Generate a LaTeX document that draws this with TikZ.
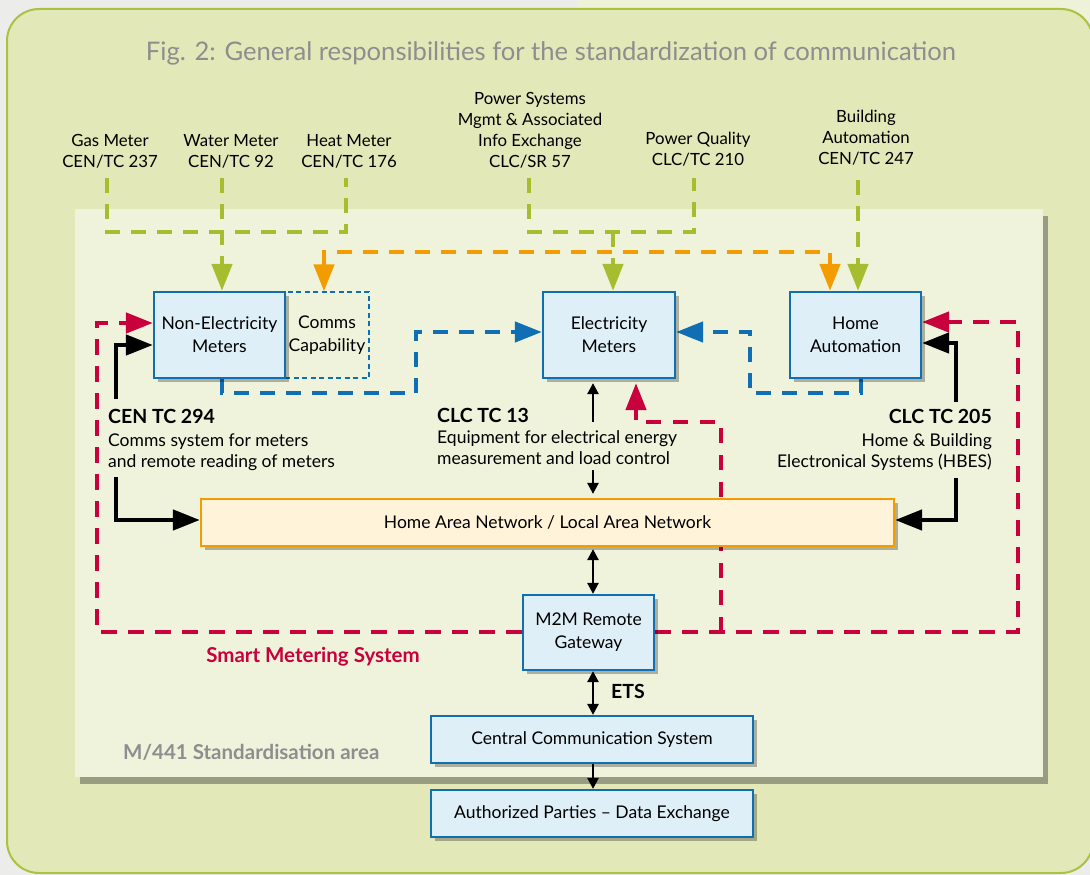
\documentclass[tikz,border=0pt]{standalone}
\usepackage{fontspec}
\setmainfont{Lato}
\usetikzlibrary{arrows.meta,shadows}
\definecolor{outgray}{HTML}{ECEDEB}
\definecolor{paleg}{HTML}{EEF2D8}
\definecolor{outfill}{HTML}{E2E8B8}
\definecolor{frameg}{HTML}{A9C23F}
\definecolor{innerfill}{HTML}{EFF3DC}
\definecolor{mblue}{HTML}{0F6EB4}
\definecolor{bfill}{HTML}{DFEFF8}
\definecolor{mgreen}{HTML}{A5BD2F}
\definecolor{morange}{HTML}{F39C00}
\definecolor{mred}{HTML}{C8003C}
\definecolor{hanfill}{HTML}{FFF3D9}
\definecolor{tgray}{HTML}{8E8E8E}
\pgfdeclarelayer{back}
\pgfdeclarelayer{conn}
\pgfsetlayers{back,conn,main}
\newcommand\mfont{\fontsize{17.5}{23}\selectfont}
\newcommand\lfont{\fontsize{16.8}{21}\selectfont}
\newcommand\dfont{\fontsize{17.5}{21}\selectfont}
\newcommand\bbfont{\fontsize{19.5}{21}\selectfont\bfseries}
\newcommand\bigbfont{\fontsize{20.5}{23}\selectfont\bfseries}
\tikzset{
  box/.style={draw=mblue, fill=bfill, line width=2.2pt, inner sep=0pt, align=center, font=\mfont,
    drop shadow={shadow xshift=4pt, shadow yshift=-4pt, opacity=0.28, fill=black}},
  hanbox/.style={box, draw=morange, fill=hanfill},
  commsbox/.style={draw=mblue, line width=1.3pt, dash pattern=on 5pt off 3.5pt, inner sep=0pt, align=center, font=\mfont},
  lab/.style={inner sep=0pt, align=center, font=\lfont},
  txt/.style={inner sep=0pt, font=\dfont},
  bigtip/.style={-{Triangle[length=27pt,width=20pt]}},
  gdash/.style={draw=mgreen, line width=4.5pt, dash pattern=on 15pt off 11pt},
  odash/.style={draw=morange, line width=4.5pt, dash pattern=on 15pt off 11pt},
  bdash/.style={draw=mblue, line width=4.5pt, dash pattern=on 15pt off 11pt},
  rdash/.style={draw=mred, line width=4.5pt, dash pattern=on 15.5pt off 11.5pt},
  kline/.style={draw=black, line width=4.5pt},
  thin/.style={draw=black, line width=2.5pt},
  ttip/.style={-{Triangle[length=11pt,width=11pt]}},
  ttip2/.style={{Triangle[length=11pt,width=11pt]}-{Triangle[length=11pt,width=11pt]}}
}
\begin{document}
\begin{tikzpicture}[x=1pt,y=-1pt]
\useasboundingbox (0,0) rectangle (1090,875);
\begin{pgfonlayer}{back}
\fill[outgray] (0,0) rectangle (1090,875);
\fill[paleg] (577,0) rectangle (1090,20);
\draw[draw=frameg, fill=outfill, line width=2pt, rounded corners=32pt] (7,9) rectangle (1093,873);
\fill[innerfill, drop shadow={shadow xshift=5pt, shadow yshift=-7pt, opacity=0.45, fill=black!75}] (75,209) rectangle (1043,777);
\end{pgfonlayer}

% title
\node[inner sep=0pt, anchor=base, text=tgray, font=\fontsize{25.6}{30}\selectfont] (title) at (551,60) {Fig. 2: General responsibilities for the standardization of communication};

% top labels
\node[lab] (gas) at (110,151.5) {Gas Meter\\CEN/TC 237};
\node[lab] (water) at (231,151.5) {Water Meter\\CEN/TC 92};
\node[lab] (heat) at (349,151.5) {Heat Meter\\CEN/TC 176};
\node[lab] (pwr) at (530,130) {Power Systems\\Mgmt \& Associated\\Info Exchange\\CLC/SR 57};
\node[lab] (pq) at (698,149) {Power Quality\\CLC/TC 210};
\node[lab] (bld) at (866,138) {Building\\Automation\\CEN/TC 247};

% boxes
\node[commsbox, minimum width=84pt, minimum height=86pt] (comms) at (327,335) {Comms\\Capability};
\node[box, minimum width=131pt, minimum height=86pt] (nonel) at (219.5,335) {Non-Electricity\\Meters};
\node[box, minimum width=132pt, minimum height=86pt] (elec) at (609,335) {Electricity\\Meters};
\node[box, minimum width=131pt, minimum height=86pt] (home) at (855.5,335) {Home\\Automation};
\node[hanbox, minimum width=693pt, minimum height=47pt] (han) at (547.5,522.5) {Home Area Network / Local Area Network};
\node[box, minimum width=131pt, minimum height=75pt] (m2m) at (588.5,632.5) {M2M Remote\\Gateway};
\node[box, minimum width=322pt, minimum height=47pt] (central) at (592,739.5) {Central Communication System};
\node[box, minimum width=322pt, minimum height=47pt] (auth) at (592,813.5) {Authorized Parties -- Data Exchange};

% description texts
\node[txt, anchor=base west, font=\bbfont] (cen1) at (108,423.5) {CEN TC 294};
\node[txt, anchor=base west] (cen2) at (108,446.5) {Comms system for meters};
\node[txt, anchor=base west] (cen3) at (108,467.5) {and remote reading of meters};
\node[txt, anchor=base west, font=\bbfont] (clc1) at (437,422.5) {CLC TC 13};
\node[txt, anchor=base west] (clc2) at (437,443.5) {Equipment for electrical energy};
\node[txt, anchor=base west] (clc3) at (437,464) {measurement and load control};
\node[txt, anchor=base east, font=\bbfont] (hb1) at (992,423.5) {CLC TC 205};
\node[txt, anchor=base east] (hb2) at (992,446.5) {Home \& Building};
\node[txt, anchor=base east] (hb3) at (992,467.5) {Electronical Systems (HBES)};
\node[txt, anchor=base, font=\bigbfont, text=mred] (sms) at (313,662) {Smart Metering System};
\node[txt, anchor=base west, font=\bigbfont, text=tgray] (area) at (123,759) {M/441 Standardisation area};
\node[txt, anchor=base west, font=\bbfont] (ets) at (611,698.5) {ETS};

% coordinates
\coordinate (gasS) at (107,178);
\coordinate (heatS) at (346,178);
\coordinate (waterS) at (222,178);
\coordinate (pwrS) at (529,178);
\coordinate (pqS) at (694,178);
\coordinate (gj) at (613,232);
\coordinate (bldS) at (858,180);
\coordinate (oL) at (324,252);
\coordinate (oR) at (830,252);
\coordinate (b1) at (222,393);
\coordinate (b2) at (416,393);
\coordinate (b3) at (416,332);
\coordinate (c1) at (861,393);
\coordinate (c2) at (750,393);
\coordinate (c3) at (750,332);
\coordinate (r1) at (97,632);
\coordinate (r2) at (97,323);
\coordinate (r3) at (1018,632);
\coordinate (r4) at (1018,322);
\coordinate (r5) at (721,632);
\coordinate (r6) at (721,422);
\coordinate (r7) at (636,422);
\coordinate (k1) at (116,399);
\coordinate (k2) at (116,345);
\coordinate (k3) at (116,477);
\coordinate (k4) at (116,520);
\coordinate (k5) at (956,402);
\coordinate (k6) at (956,343);
\coordinate (k7) at (956,478);
\coordinate (k8) at (956,520);
\coordinate (t1) at (593,422);
\coordinate (t2) at (593,470);

\begin{pgfonlayer}{conn}
% green
\draw[gdash] (gasS) -- ++(0,54) -| (heatS);
\draw[gdash, bigtip] (waterS) -- (waterS |- nonel.north);
\draw[gdash] (pwrS) -- ++(0,54) -| (pqS);
\draw[gdash, bigtip] (gj) -- (gj |- elec.north);
\draw[gdash, bigtip] (bldS) -- (bldS |- home.north);
% orange
\draw[odash, {Triangle[length=27pt,width=20pt]}-{Triangle[length=27pt,width=20pt]}] (oL |- comms.north) -- (oL) -- (oR) -- (oR |- home.north);
% blue
\draw[bdash, bigtip] (b1 |- nonel.south) -- (b1) -- (b2) -- (b3) -- (b3 -| elec.west);
\draw[bdash, bigtip] (c1 |- home.south) -- (c1) -- (c2) -- (c3) -- (c3 -| elec.east);
% red
\draw[rdash, bigtip] (m2m.west |- r1) -- (r1) -- (r2) -- (r2 -| nonel.west);
\draw[rdash, bigtip] (m2m.east |- r3) -- (r3) -- (r4) -- (r4 -| home.east);
\draw[rdash, bigtip] (r5) -- (r6) -- (r7) -- ([yshift=-4pt]r7 |- elec.south);
% black thick
\draw[kline, bigtip] (k1) -- (k2) -- (k2 -| nonel.west);
\draw[kline, bigtip] (k3) -- (k4) -- (k4 -| han.west);
\draw[kline, bigtip] (k5) -- (k6) -- (k6 -| home.east);
\draw[kline, bigtip] (k7) -- (k8) -- (k8 -| han.east);
% thin black
\draw[thin, ttip, shorten >=4pt] (t1) -- (t1 |- elec.south);
\draw[thin, ttip, shorten >=4pt] (t2) -- (t2 |- han.north);
\draw[thin, ttip2, shorten <=2pt] (t1 |- han.south) -- (t1 |- m2m.north);
\draw[thin, ttip2] (t1 |- m2m.south) -- (t1 |- central.north);
\draw[thin, ttip] (t1 |- central.south) -- (t1 |- auth.north);
\end{pgfonlayer}
\end{tikzpicture}
\end{document}
